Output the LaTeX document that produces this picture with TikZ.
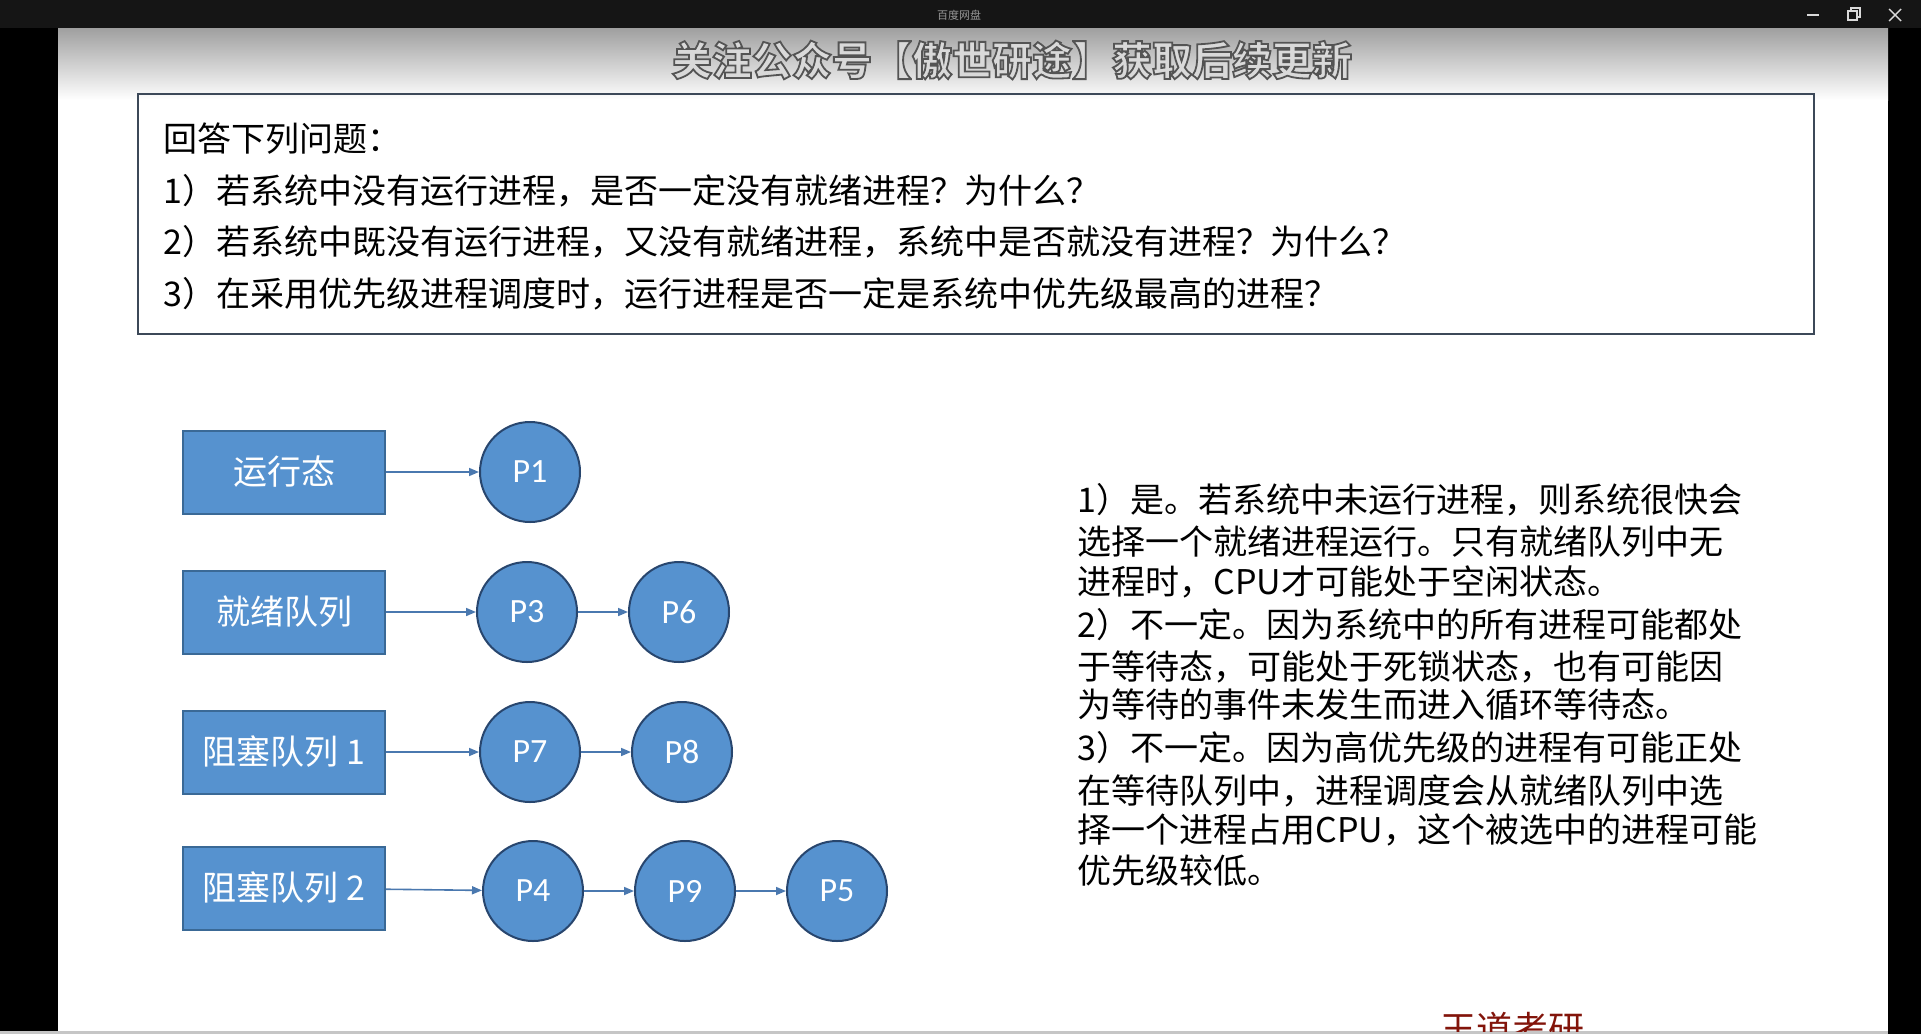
\documentclass[tikz,border=0pt]{standalone}
\usepackage{fontspec}
\usepackage{xcolor}
\usepackage{tikz}
\usetikzlibrary{positioning,arrows.meta}

\newfontfamily\cjk{Noto Sans CJK SC}
\newfontfamily\lab{Carlito}

\definecolor{boxblue}{RGB}{86,146,207}
\definecolor{boxline}{RGB}{58,105,150}
\definecolor{cirline}{RGB}{40,70,110}
\definecolor{arrowblue}{RGB}{74,120,175}
\definecolor{framegray}{RGB}{60,72,88}
\definecolor{barblack}{RGB}{21,21,21}
\definecolor{darkred}{RGB}{130,20,10}

% outlined text for the watermark
\newcommand{\outlined}[1]{\special{pdf:literal direct 2 Tr 0.9 w 0.33 0.33 0.33 RG}#1\special{pdf:literal direct 0 Tr}}

\begin{document}
\begin{tikzpicture}[x=0.5pt, y=-0.5pt,
    state/.style={draw=boxline, line width=1pt, fill=boxblue, text=white, minimum width=101pt, minimum height=41.5pt, inner sep=0pt, font=\cjk\fontsize{17}{20}\selectfont},
    proc/.style={circle, draw=cirline, line width=1pt, fill=boxblue, text=white, minimum size=50pt, inner sep=0pt, font=\lab\fontsize{17}{20}\selectfont},
    link/.style={draw=arrowblue, line width=0.8pt, -{Triangle[length=5pt,width=4pt]}},
    qline/.style={anchor=west, inner sep=0pt, text height=15pt, text depth=2pt, font=\cjk\fontsize{17}{20}\selectfont}]

    % Frame
    \useasboundingbox (0,0) rectangle (1921,1034);
    \fill[black] (0,0) rectangle (1921,1034);
    \fill[white] (58,28) rectangle (1888,1031);
    \shade[top color=gray!75, bottom color=white] (58,28) rectangle (1888,100);
    \fill[gray!45] (0,1031) rectangle (1888,1034);
    \fill[barblack] (0,0) rectangle (1921,28);

    % Title bar
    \node[text=gray!80, font=\cjk\fontsize{5.5}{6}\selectfont] (bartitle) at (959,15) {百度网盘};
    \draw[white!85!black, line width=0.7pt] (1807,15) -- (1819,15);
    \draw[white!85!black, line width=0.7pt] (1848,11) rectangle (1857,20);
    \draw[white!85!black, line width=0.7pt] (1851,11) -- (1851,8) -- (1860,8) -- (1860,17) -- (1857,17);
    \draw[white!85!black, line width=0.7pt] (1889,9) -- (1901,21) (1889,21) -- (1901,9);

    % Watermark
    \node[text=gray!30, font=\cjk\bfseries\fontsize{20}{24}\selectfont] (mark) at (1012,60) {\outlined{关注公众号【傲世研途】获取后续更新}};

    % Questions
    \draw[framegray, line width=1.2pt] (138,94) rectangle (1814,334);
    \node[qline] (q0) at (163,138) {回答下列问题：};
    \node[qline] (q1) at (163,190) {1）若系统中没有运行进程，是否一定没有就绪进程？为什么？};
    \node[qline] (q2) at (163,241) {2）若系统中既没有运行进程，又没有就绪进程，系统中是否就没有进程？为什么？};
    \node[qline] (q3) at (163,293) {3）在采用优先级进程调度时，运行进程是否一定是系统中优先级最高的进程？};

    % States and queues
    \node[state] (run) at (284,472) {运行态};
    \node[state] (ready) at (284,612) {就绪队列};
    \node[state] (block1) at (284,752) {阻塞队列 1};
    \node[state] (block2) at (284,888) {阻塞队列 2};

    \node[proc] (p1) at (530,472) {P1};
    \node[proc] (p3) at (527,612) {P3};
    \node[proc, right=25pt of p3] (p6) {P6};
    \node[proc] (p7) at (530,752) {P7};
    \node[proc, right=25pt of p7] (p8) {P8};
    \node[proc] (p4) at (533,891) {P4};
    \node[proc, right=25pt of p4] (p9) {P9};
    \node[proc, right=25pt of p9] (p5) {P5};

    \draw[link] (run) -- (p1);
    \draw[link] (ready) -- (p3);
    \draw[link] (p3) -- (p6);
    \draw[link] (block1) -- (p7);
    \draw[link] (p7) -- (p8);
    \draw[link] (block2) -- (p4);
    \draw[link] (p4) -- (p9);
    \draw[link] (p9) -- (p5);

    % Answers
    \node[qline] (a1) at (1077,499) {1）是。若系统中未运行进程，则系统很快会};
    \node[qline] (a2) at (1077,541) {选择一个就绪进程运行。只有就绪队列中无};
    \node[qline] (a3) at (1077,581) {进程时，CPU才可能处于空闲状态。};
    \node[qline] (a4) at (1077,624) {2）不一定。因为系统中的所有进程可能都处};
    \node[qline] (a5) at (1077,666) {于等待态，可能处于死锁状态，也有可能因};
    \node[qline] (a6) at (1077,704) {为等待的事件未发生而进入循环等待态。};
    \node[qline] (a7) at (1077,747) {3）不一定。因为高优先级的进程有可能正处};
    \node[qline] (a8) at (1077,790) {在等待队列中，进程调度会从就绪队列中选};
    \node[qline] (a9) at (1077,829) {择一个进程占用CPU，这个被选中的进程可能};
    \node[qline] (a10) at (1077,870) {优先级较低。};

    % Footer
    \begin{scope}
        \clip (58,28) rectangle (1888,1031);
        \node[anchor=north west, inner sep=0pt, text=darkred, font=\cjk\fontsize{18}{20}\selectfont] (logo) at (1440,1012) {王道考研};
    \end{scope}
\end{tikzpicture}
\end{document}
